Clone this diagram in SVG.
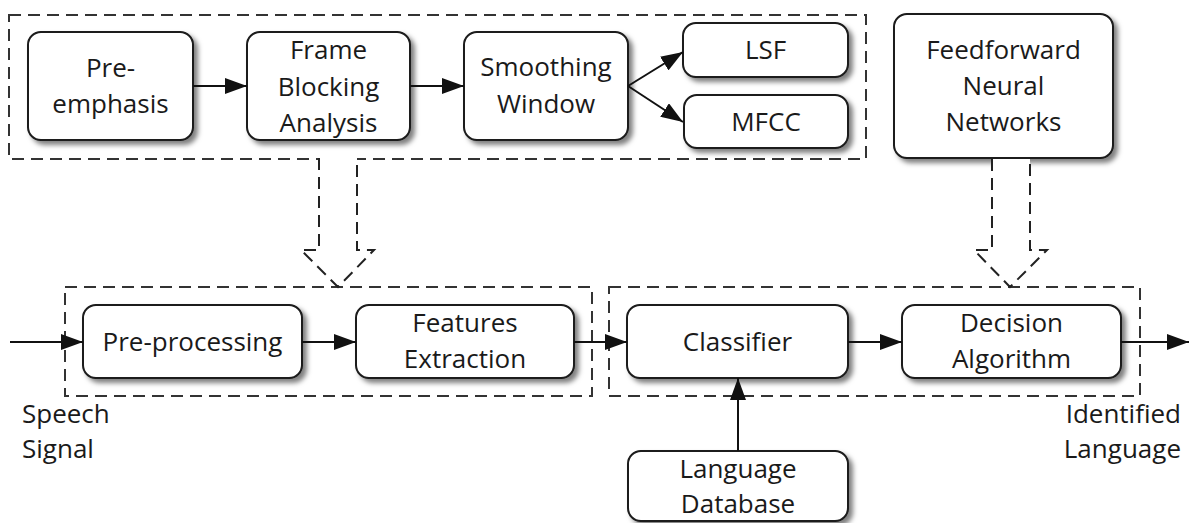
<svg xmlns="http://www.w3.org/2000/svg" width="1190" height="523" viewBox="0 0 1190 523">
<defs>
<style>
.box{fill:#fff;stroke:#1a1a1a;stroke-width:2;filter:url(#sh)}
.grp{fill:none;stroke:#333;stroke-width:2;stroke-dasharray:12 7}
.hol{fill:#fff;stroke:#222;stroke-width:2;stroke-dasharray:12 7}
.con{fill:none;stroke:#111;stroke-width:2;marker-end:url(#ah)}
text{font-family:"Open Sans","Lato","DejaVu Sans",sans-serif;font-size:26px;fill:#1a1a1a}
.c{text-anchor:middle}
.r{text-anchor:end}
</style>
<filter id="sh" x="-10%" y="-10%" width="130%" height="140%">
<feDropShadow dx="4" dy="4" stdDeviation="2.5" flood-color="#000" flood-opacity="0.5"/>
</filter>
<marker id="ah" viewBox="0 0 10 10" refX="10" refY="5" markerWidth="11" markerHeight="8" orient="auto" markerUnits="strokeWidth" preserveAspectRatio="none">
<path d="M0,0 L10,5 L0,10 z" fill="#111"/>
</marker>
</defs>

<g id="groups">
<rect id="grp-top" class="grp" x="9" y="15" width="857" height="144"/>
<rect id="grp-front" class="grp" x="65" y="287" width="527" height="109"/>
<rect id="grp-back" class="grp" x="609" y="287" width="531" height="109"/>
</g>

<g id="n-preemph"><rect class="box" x="28" y="32" width="165" height="108" rx="13"/>
<text class="c" x="110.5" y="77">Pre-</text><text class="c" x="110.5" y="113">emphasis</text></g>
<g id="n-frame"><rect class="box" x="247" y="32" width="163" height="108" rx="13"/>
<text class="c" x="328.5" y="59">Frame</text><text class="c" x="328.5" y="96">Blocking</text><text class="c" x="328.5" y="132">Analysis</text></g>
<g id="n-smooth"><rect class="box" x="464" y="32" width="164" height="108" rx="13"/>
<text class="c" x="546" y="76">Smoothing</text><text class="c" x="546" y="113">Window</text></g>
<g id="n-lsf"><rect class="box" x="683" y="23" width="165" height="54" rx="13"/>
<text class="c" x="765.5" y="59">LSF</text></g>
<g id="n-mfcc"><rect class="box" x="684" y="95" width="164" height="53" rx="13"/>
<text class="c" x="766" y="131">MFCC</text></g>
<g id="n-ffnn"><rect class="box" x="894" y="14" width="219" height="144" rx="13"/>
<text class="c" x="1003.5" y="59">Feedforward</text><text class="c" x="1003.5" y="95">Neural</text><text class="c" x="1003.5" y="131">Networks</text></g>
<g id="n-preproc"><rect class="box" x="83" y="305" width="219" height="73" rx="13"/>
<text class="c" x="192.5" y="351">Pre-processing</text></g>
<g id="n-feat"><rect class="box" x="356" y="305" width="218" height="73" rx="13"/>
<text class="c" x="465" y="332">Features</text><text class="c" x="465" y="368">Extraction</text></g>
<g id="n-class"><rect class="box" x="627" y="305" width="221" height="73" rx="13"/>
<text class="c" x="737.5" y="351">Classifier</text></g>
<g id="n-dec"><rect class="box" x="902" y="305" width="219" height="73" rx="13"/>
<text class="c" x="1011.5" y="332">Decision</text><text class="c" x="1011.5" y="368">Algorithm</text></g>
<g id="n-langdb"><rect class="box" x="628" y="451" width="220" height="70" rx="13"/>
<text class="c" x="738" y="478">Language</text><text class="c" x="738" y="513">Database</text></g>
<g id="n-speech"><text x="22" y="423">Speech</text><text x="22" y="458">Signal</text></g>
<g id="n-ident"><text class="r" x="1181" y="423">Identified</text><text class="r" x="1181" y="458">Language</text></g>

<g id="connectors">
<path class="hol" d="M319,158 L319,250 L301,250 L338,287 L374,250 L357,250 L357,158"/>
<path class="hol" d="M992,159 L992,250 L974,250 L1010,287 L1047,250 L1030,250 L1030,159"/>
<line class="con" x1="193" y1="86" x2="247" y2="86"/>
<line class="con" x1="410" y1="86" x2="464" y2="86"/>
<line class="con" x1="628" y1="86" x2="683" y2="52"/>
<line class="con" x1="628" y1="86" x2="683" y2="122"/>
<line class="con" x1="10" y1="342" x2="83" y2="342"/>
<line class="con" x1="302" y1="342" x2="356" y2="342"/>
<line class="con" x1="574" y1="342" x2="627" y2="342"/>
<line class="con" x1="848" y1="342" x2="902" y2="342"/>
<line class="con" x1="1121" y1="342" x2="1189" y2="342"/>
<line class="con" x1="738" y1="451" x2="738" y2="378"/>
</g>
</svg>
